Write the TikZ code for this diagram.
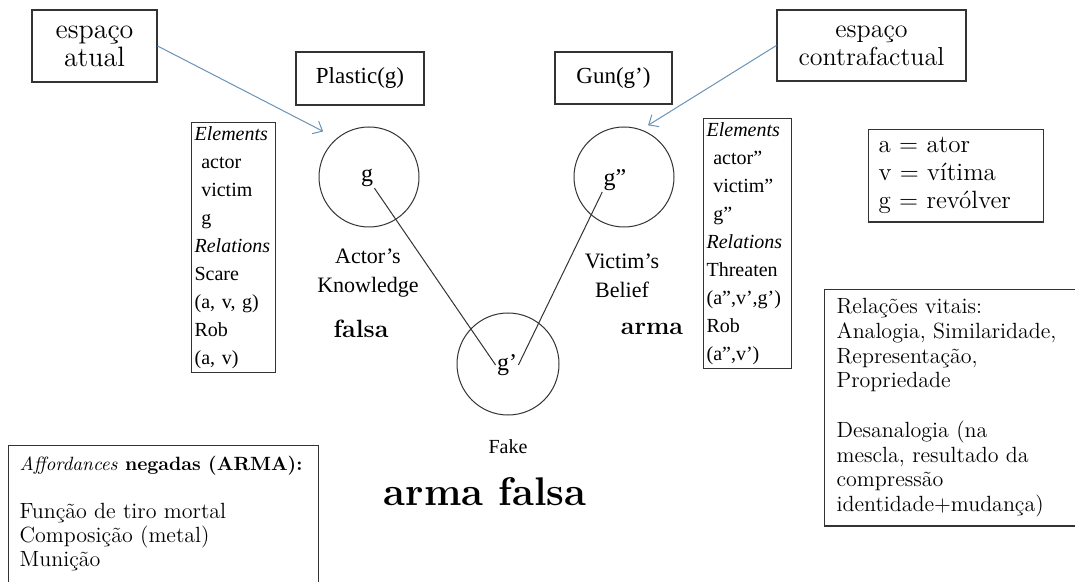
\documentclass[tikz,border=0pt]{standalone}
\usepackage{fontspec}
\newfontfamily\tms{Liberation Serif}
\usetikzlibrary{arrows.meta}
\definecolor{gline}{HTML}{333333}
\definecolor{pblue}{HTML}{6A93B8}
\tikzset{
  sbox/.style={draw=gline, line width=0.6pt, align=center, inner sep=2pt,
               font=\fontsize{13}{14}\selectfont},
  tbox/.style={draw=gline, line width=0.6pt, inner sep=2pt,
               font=\tms\fontsize{11.5}{13}\selectfont},
  ebox/.style={draw=gline, line width=0.6pt, align=left, anchor=north west,
               inner xsep=1.5pt, inner ysep=2pt, font=\tms\fontsize{10}{14}\selectfont},
  textbox/.style={draw=gline, line width=0.6pt, align=left, anchor=north west},
  space/.style={circle, draw=gline, line width=0.5pt, minimum size=50pt, inner sep=0pt},
  elt/.style={inner sep=0.5pt, font=\tms\fontsize{12}{12}\selectfont},
  spacelbl/.style={align=center, inner sep=0pt, font=\tms\fontsize{11}{14.5}\selectfont},
  verdict/.style={inner sep=0pt, font=\fontsize{12.5}{14}\selectfont\bfseries},
  pointer/.style={-{Straight Barb[length=4pt,width=7pt]}, pblue, line width=0.5pt},
  link/.style={gline, line width=0.5pt},
}
\begin{document}
\begin{tikzpicture}[x=0.5pt, y=-0.5pt]
  \useasboundingbox[fill=white] (0,0) rectangle (1075,582);

  % input space labels
  \node[sbox, minimum width=62.5pt, minimum height=36pt, font=\fontsize{14}{14}\selectfont] (atual) at (94.5,46) {espaço\\atual};
  \node[sbox, minimum width=94.5pt, minimum height=35.5pt] (contra) at (871.5,45.5) {espaço\\contrafactual};

  \node[tbox, minimum width=64pt, minimum height=26.5pt] (plastic) at (360,78.5) {Plastic(g)};
  \node[tbox, minimum width=58.5pt, minimum height=26pt] (gun) at (613.5,78) {Gun(g’)};

  % element lists
  \node[ebox, text width=39pt, minimum height=123.5pt] (elemA) at (191,122)
    {\textit{Elements}\\ \ actor\\ \ victim\\ \ g\\ \textit{Relations}\\ Scare\\ (a, v, g)\\ Rob\\ (a, v)};
  \node[ebox, text width=41pt, minimum height=124pt] (elemV) at (703,118)
    {\textit{Elements}\\ \ actor”\\ \ victim”\\ \ g”\\ \textit{Relations}\\ Threaten\\ (a”,v’,g’)\\ Rob\\ (a”,v’)};

  % mental spaces
  \node[space] (actor) at (369,177) {};
  \node[space] (victim) at (624,177) {};
  \node[space, minimum size=51pt] (fake) at (508,364) {};

  \node[elt] (gA) at (367,178) {g};
  \node[elt] (gV) at (615,180) {g”};
  \node[elt] (gF) at (507,365) {g’};

  \draw[link] (gA.south east) -- (gF.west);
  \draw[link] (gV.south west) -- (gF.east);

  \node[spacelbl] (knowA) at (368,273) {Actor’s\\Knowledge};
  \node[spacelbl] (beliefV) at (622,276) {Victim’s\\Belief};
  \node[spacelbl, font=\tms\fontsize{10}{12}\selectfont] (fakeF) at (508,447) {Fake};

  \node[verdict] (falsa) at (361,329) {falsa};
  \node[verdict] (arma) at (652,329) {arma};
  \node[verdict, font=\fontsize{20}{22}\selectfont\bfseries] (blend) at (485,492) {arma falsa};

  % side notes
  \node[textbox, text width=77.5pt, inner xsep=5pt, inner ysep=4pt,
        font=\fontsize{12.5}{14}\selectfont] (legend) at (868,129)
    {a = ator\\ v = vítima\\ g = revólver};
  \node[textbox, text width=128pt, inner xsep=6pt, inner ysep=4.5pt,
        font=\fontsize{11}{12.35}\selectfont] (vital) at (824,289)
    {Relações vitais:\\ Analogia, Similaridade,\\ Representação,\\ Propriedade\\[12.35pt]
     Desanalogia (na\\ mescla, resultado da\\ compressão\\ identidade+mudança)};
  \node[textbox, text width=144pt, inner xsep=5.5pt, inner ysep=5pt,
        font=\fontsize{11}{12}\selectfont] (afford) at (8,445)
    {{\fontsize{9.6}{12}\selectfont\textit{Affordances} \textbf{negadas (ARMA):}}\\[12pt]
     Função de tiro mortal\\ Composição (metal)\\ Munição\\ \mbox{}};

  \draw[pointer, shorten >=7.5pt] (atual.east) -- (actor.130);
  \draw[pointer, shorten >=4pt] (contra.west) -- (victim.70);
\end{tikzpicture}
\end{document}
